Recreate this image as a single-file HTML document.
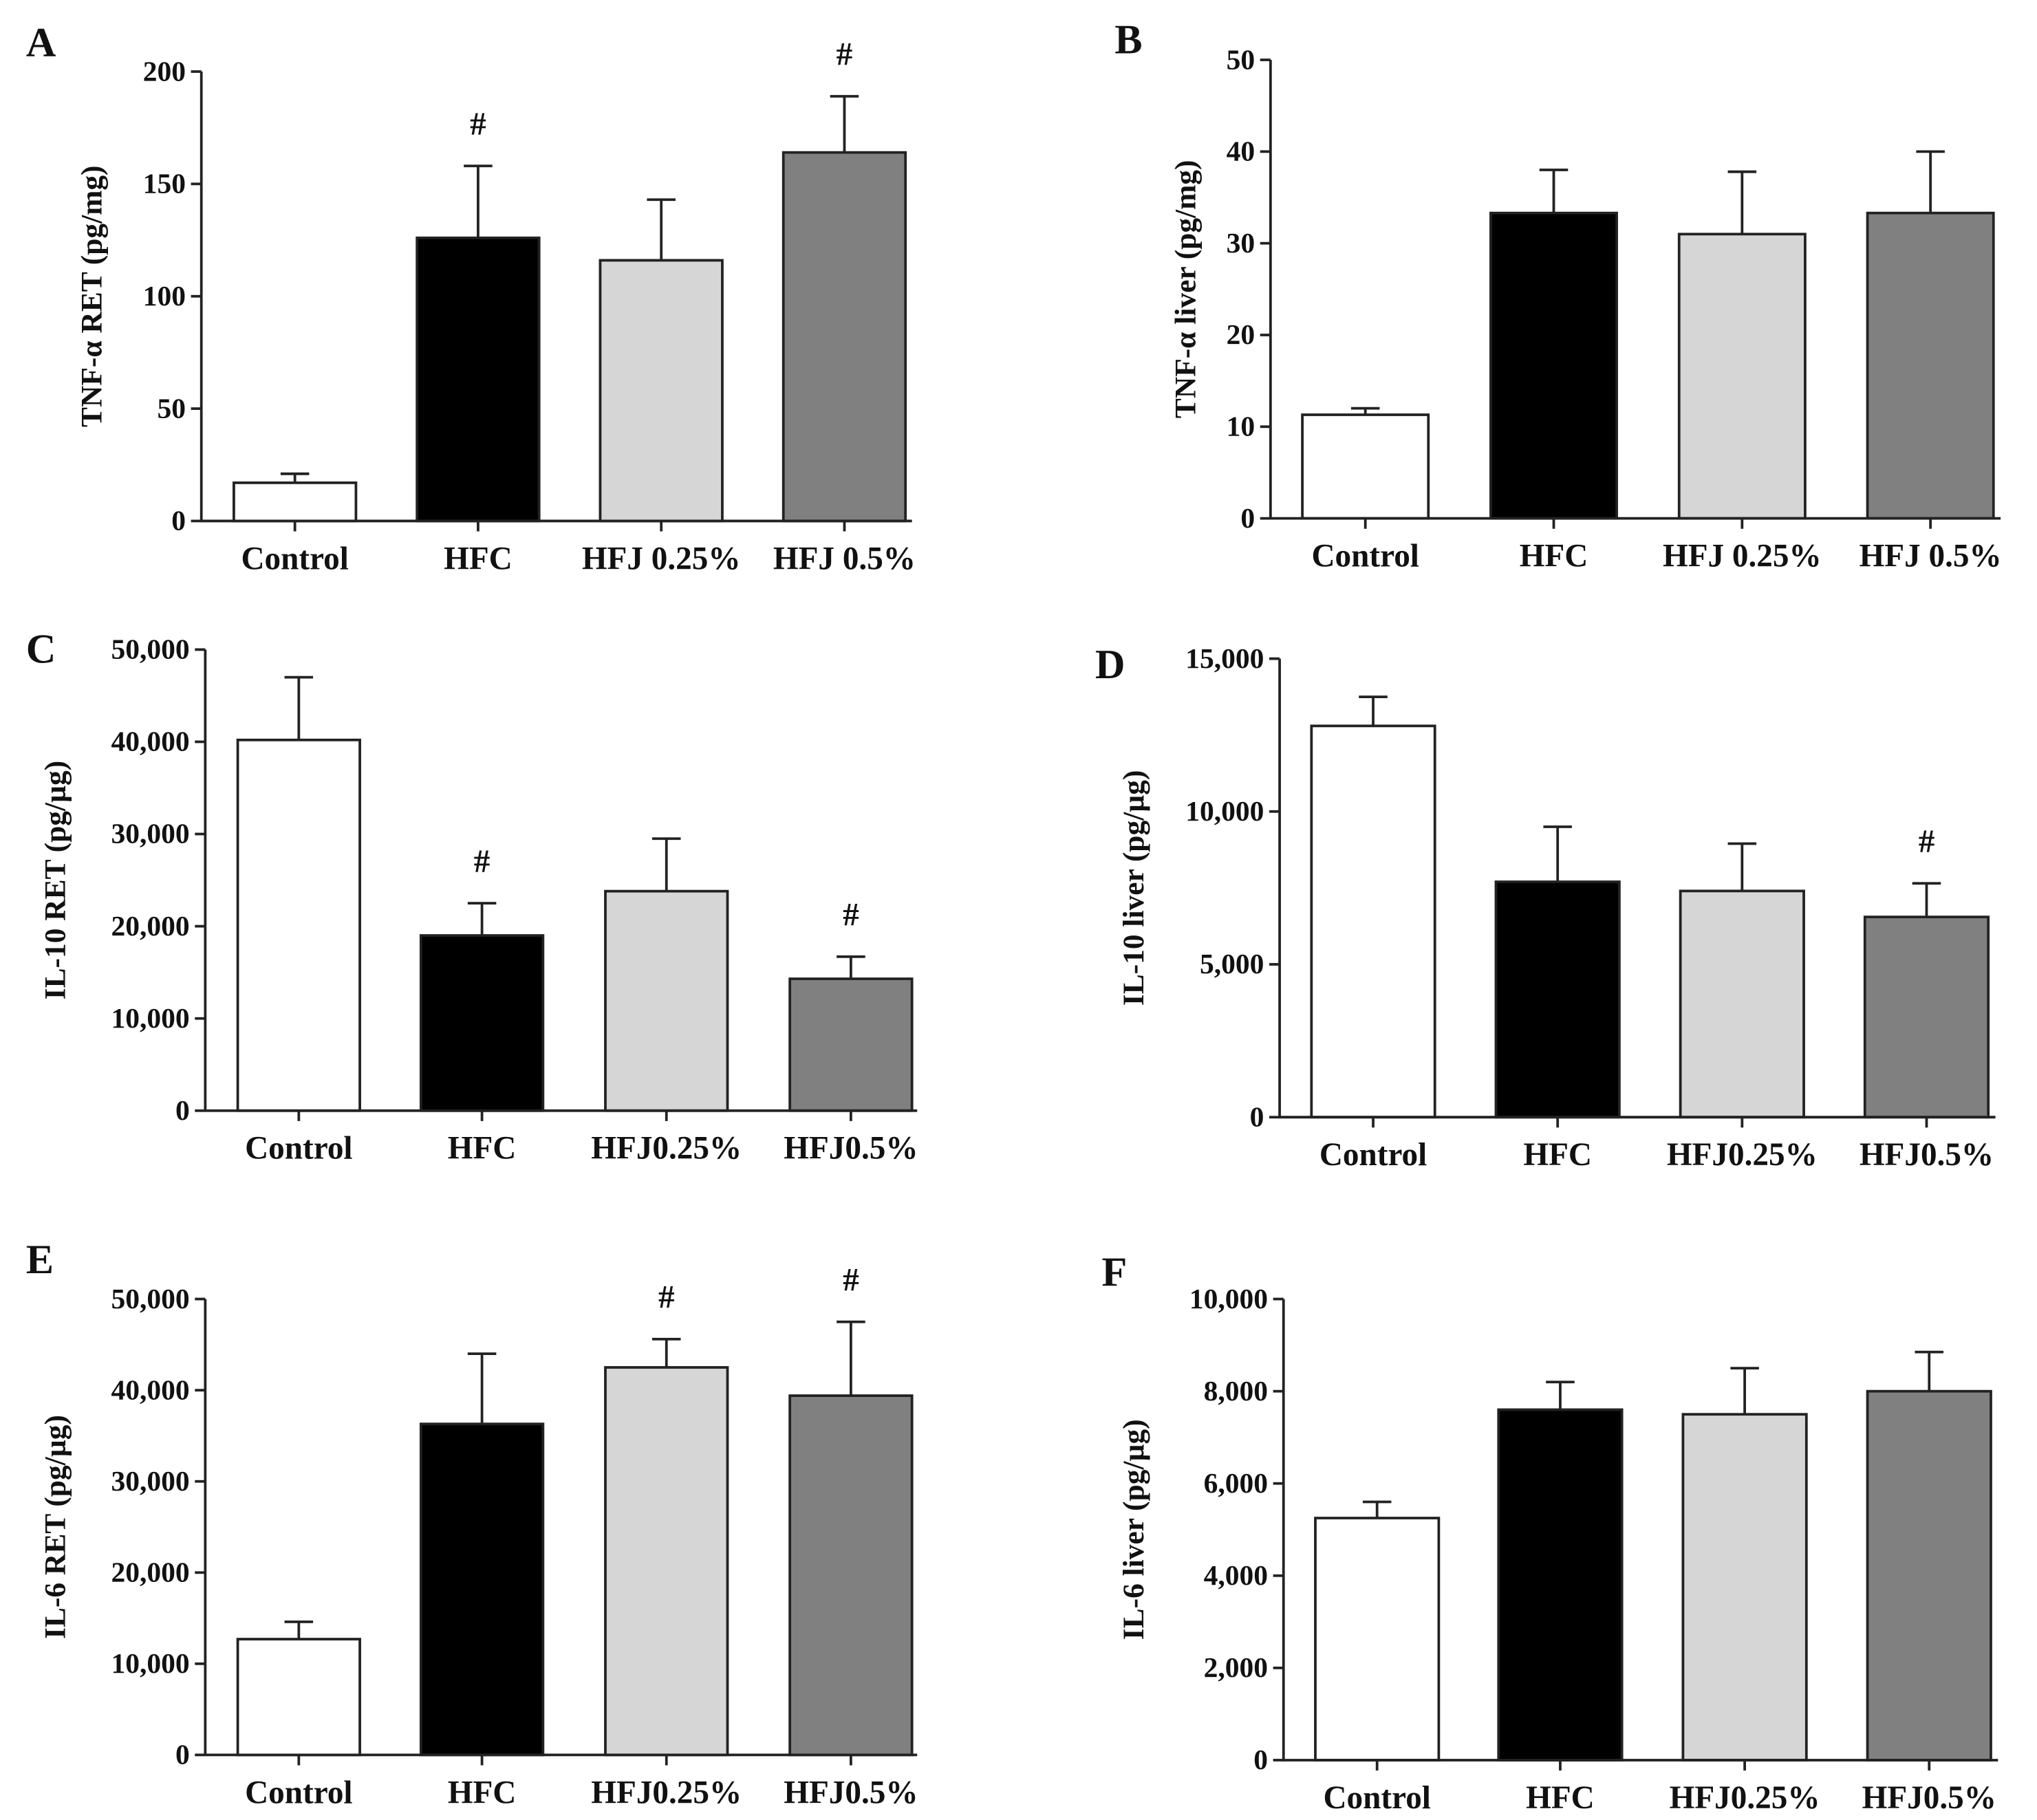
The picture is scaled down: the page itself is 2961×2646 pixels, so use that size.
<!DOCTYPE html>
<html><head><meta charset="utf-8"><style>
html,body{margin:0;padding:0;background:#fff}
svg{display:block}
text{font-family:"Liberation Serif",serif;font-weight:bold;fill:#111}
</style></head><body>
<svg id="fig" width="2961" height="2646" viewBox="0 0 1568 1401" xmlns="http://www.w3.org/2000/svg"></svg>
<script>
const catsA=["Control","HFC","HFJ 0.25%","HFJ 0.5%"];
const catsB=["Control","HFC","HFJ0.25%","HFJ0.5%"];
const valsA=[17,126,116,164], errA=[21,158,143,189], sigA=[false,true,false,true];
const valsB=[11.3,33.3,31,33.3], errB=[12,38,37.8,40], sigB=[false,false,false,false];
const valsC=[40200,19000,23800,14300], errC=[47000,22500,29500,16700], sigC=[false,true,false,true];
const valsD=[12800,7700,7400,6550], errD=[13750,9500,8950,7650], sigD=[false,false,false,true];
const valsE=[12700,36300,42500,39400], errE=[14600,44000,45600,47500], sigE=[false,false,true,true];
const valsF=[5250,7600,7500,8000], errF=[5600,8200,8500,8850], sigF=[false,false,false,false];
const ticksA=[0,50,100,150,200], ticksB=[0,10,20,30,40,50];
const ticksC=[0,10000,20000,30000,40000,50000], ticksD=[0,5000,10000,15000];
const ticksE=[0,10000,20000,30000,40000,50000], ticksF=[0,2000,4000,6000,8000,10000];
const fills=["#ffffff","#000000","#d6d6d6","#808080"];
const NS="http://www.w3.org/2000/svg";
const svg=document.getElementById('fig');
function mk(tag,attrs,parent){const e=document.createElementNS(NS,tag);for(const k in attrs)e.setAttribute(k,attrs[k]);(parent||svg).appendChild(e);return e;}
function fmt(v){return v.toLocaleString('en-US');}
function panel(p){
  const g=mk('g',{});
  
  
  const max=p.ticks[p.ticks.length-1];
  const y=v=>p.y0-(v/max)*(p.y0-p.yTop);
  const lt=mk('text',{x:p.lx,y:p.ly,'font-size':32},g);lt.textContent=p.letter;
  
  p.vals.forEach((v,i)=>{
    const cx=p.centers[i], w=p.bw;
    const b=mk('rect',{x:cx-w/2,y:y(v),width:w,height:p.y0-y(v),fill:fills[i],stroke:'#222','stroke-width':2},g);
    
    
    const e=mk('path',{d:`M${cx} ${y(v)}V${y(p.errs[i])}M${cx-11} ${y(p.errs[i])}H${cx+11}`,stroke:'#222','stroke-width':2,fill:'none'},g);
    
    if(p.sig[i]){const s=mk('text',{x:cx,y:y(p.errs[i])-24,'font-size':25,'text-anchor':'middle','font-weight':'normal'},g);s.textContent='#';
      }
    mk('line',{x1:cx,x2:cx,y1:p.y0,y2:p.y0+8,stroke:'#222','stroke-width':2},g);
    const t=mk('text',{x:cx,y:p.y0+37,'font-size':25,'text-anchor':'middle'},g);t.textContent=p.cats[i];
    
  });
  const ax=mk('path',{d:`M${p.ax} ${p.yTop}V${p.y0}H${p.xEnd}`,stroke:'#222','stroke-width':2,fill:'none'},g);
  
  p.ticks.forEach(t=>{
    mk('line',{x1:p.ax-8,x2:p.ax,y1:y(t),y2:y(t),stroke:'#222','stroke-width':2},g);
    const tl=mk('text',{x:p.ax-12,y:y(t)+7,'font-size':22,'text-anchor':'end'},g);tl.textContent=fmt(t);
    
  });
  const yl=mk('text',{x:0,y:0,'font-size':23,'text-anchor':'middle',transform:`translate(${p.yx},${(p.y0+p.yTop)/2}) rotate(-90)`},g);
  yl.textContent=p.ylabel;
  
}
panel({letter:'A',lx:20,ly:43,ax:155,y0:401,yTop:55,xEnd:702,centers:[227,368,509,650],bw:94,cats:catsA,vals:valsA,errs:errA,sig:sigA,ticks:ticksA,ylabel:'TNF-α RET (pg/mg)',yx:78});
panel({letter:'B',lx:858,ly:41,ax:978,y0:399,yTop:46,xEnd:1540,centers:[1051,1196,1341,1486],bw:97,cats:catsA,vals:valsB,errs:errB,sig:sigB,ticks:ticksB,ylabel:'TNF-α liver (pg/mg)',yx:920});
panel({letter:'C',lx:20,ly:510,ax:158,y0:855,yTop:500,xEnd:706,centers:[230,371,513,655],bw:94,cats:catsB,vals:valsC,errs:errC,sig:sigC,ticks:ticksC,ylabel:'IL-10 RET (pg/µg)',yx:50});
panel({letter:'D',lx:843,ly:522,ax:985,y0:860,yTop:507,xEnd:1536,centers:[1057,1199,1341,1483],bw:95,cats:catsB,vals:valsD,errs:errD,sig:sigD,ticks:ticksD,ylabel:'IL-10 liver (pg/µg)',yx:880});
panel({letter:'E',lx:20,ly:980,ax:158,y0:1351,yTop:1000,xEnd:706,centers:[230,371,513,655],bw:94,cats:catsB,vals:valsE,errs:errE,sig:sigE,ticks:ticksE,ylabel:'IL-6 RET (pg/µg)',yx:50});
panel({letter:'F',lx:848,ly:990,ax:988,y0:1355,yTop:1000,xEnd:1538,centers:[1060,1201,1343,1485],bw:95,cats:catsB,vals:valsF,errs:errF,sig:sigF,ticks:ticksF,ylabel:'IL-6 liver (pg/µg)',yx:880});
</script>
</body></html>
